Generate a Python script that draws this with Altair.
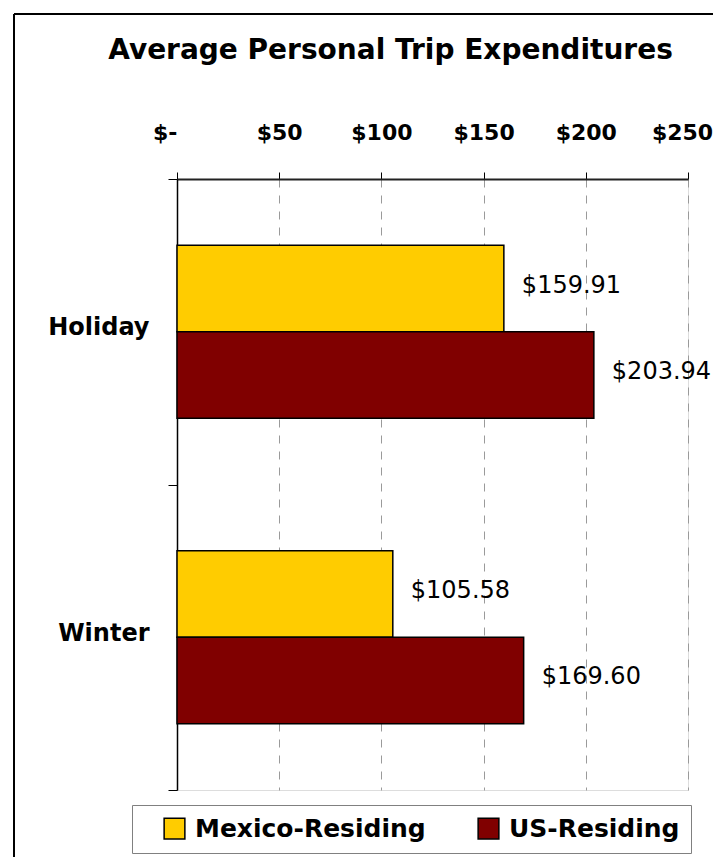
import altair as alt
import pandas as pd

categories = ["Holiday", "Winter"]
series = ["Mexico-Residing", "US-Residing"]
mexico_values = [159.91, 105.58]
us_values = [203.94, 169.60]
x_ticks = [0, 50, 100, 150, 200, 250]
colors = ["#FFCC00", "#800000"]

rows = []
for i, c in enumerate(categories):
    rows.append({"category": c, "series": series[0], "value": mexico_values[i]})
    rows.append({"category": c, "series": series[1], "value": us_values[i]})
df = pd.DataFrame(rows)

FONT = "DejaVu Sans"
W, H = 511, 611
PAD = {"left": 169, "top": 171, "right": 25, "bottom": 67}
SVG_W = PAD["left"] + W + PAD["right"]
SVG_H = PAD["top"] + H + PAD["bottom"]

y_enc = alt.Y(
    "category:N",
    sort=categories,
    scale=alt.Scale(paddingInner=0, paddingOuter=0),
    axis=alt.Axis(
        title=None,
        orient="left",
        domainColor="black",
        domainWidth=1.5,
        tickColor="black",
        tickSize=9,
        tickWidth=1,
        tickBand="extent",
        labelFont=FONT,
        labelFontSize=24,
        labelFontWeight="bold",
        labelColor="black",
        labelPadding=19,
        labelOffset=-4,
        grid=False,
    ),
)
yoff = alt.YOffset("series:N", sort=series,
                   scale=alt.Scale(paddingInner=0, paddingOuter=0.766))
x_enc = alt.X(
    "value:Q",
    scale=alt.Scale(domain=[0, 250], nice=False),
    axis=alt.Axis(
        title=None,
        orient="top",
        values=x_ticks,
        labelExpr="datum.value == 0 ? '$-' : '$' + datum.value",
        labelAlign=alt.condition("datum.value == 0", alt.value("right"), alt.value("center")),
        labelOffset=alt.condition("datum.value == 250", alt.value(-6), alt.value(0)),
        domainColor="#222222",
        domainWidth=2,
        tickColor="black",
        tickSize=7,
        tickWidth=1,
        labelFont=FONT,
        labelFontSize=22,
        labelFontWeight="bold",
        labelColor="black",
        labelPadding=28,
        grid=True,
        gridColor="#9a9a9a",
        gridDash=[8, 8],
        gridWidth=1,
    ),
)

bars = alt.Chart(df).mark_bar(stroke="black", strokeWidth=1.5).encode(
    x=x_enc,
    y=y_enc,
    yOffset=yoff,
    color=alt.Color(
        "series:N",
        sort=series,
        scale=alt.Scale(domain=series, range=colors),
        legend=alt.Legend(
            title=None,
            orient="none",
            legendX=-45,
            legendY=626,
            direction="horizontal",
            fillColor="white",
            strokeColor="#808080",
            padding=11,
            symbolType="square",
            symbolSize=430,
            symbolStrokeColor="black",
            symbolStrokeWidth=1.5,
            symbolOffset=19,
            labelFont=FONT,
            labelFontSize=25,
            labelFontWeight="bold",
            labelColor="black",
            labelOffset=8,
            labelLimit=400,
            columnPadding=31,
            labelExpr="datum.label + '\u00a0\u00a0'",
        ),
    ),
)

labels = alt.Chart(df).mark_text(
    align="left", baseline="middle", dx=18, dy=-3,
    font=FONT, fontSize=24, fontWeight="normal", color="black",
).encode(
    x="value:Q",
    y=alt.Y("category:N", sort=categories),
    yOffset=yoff,
    text=alt.Text("label:N"),
).transform_calculate(label="'$' + format(datum.value, '.2f')")

frame_top = alt.Chart(df).mark_rule(color="black", strokeWidth=2).encode(
    x=alt.value(-163), x2=alt.value(SVG_W - PAD["left"]), y=alt.value(-165)
)
frame_left = alt.Chart(df).mark_rule(color="black", strokeWidth=2).encode(
    x=alt.value(-163), y=alt.value(-165), y2=alt.value(SVG_H - PAD["top"])
)

chart = alt.layer(bars, labels, frame_top, frame_left).properties(
    width=W,
    height=H,
    title=alt.TitleParams(
        "Average Personal Trip Expenditures",
        font=FONT, fontSize=28, fontWeight="bold", color="black",
        anchor="middle", frame="group", dx=-42, offset=-52,
    ),
    autosize=alt.AutoSizeParams(type="none"),
    padding=PAD,
).configure_view(
    stroke="#808080", strokeWidth=1.5
).configure(background="white")

chart.save("out.html", embed_options={"renderer": "svg", "actions": False})
